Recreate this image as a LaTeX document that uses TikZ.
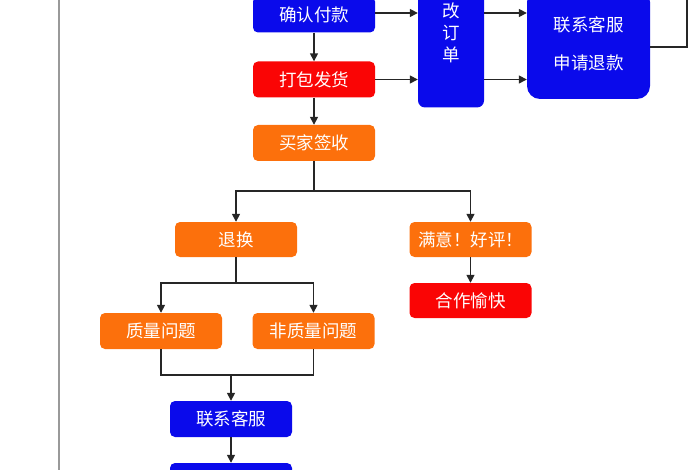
\documentclass[tikz,border=0pt]{standalone}
\usepackage{fontspec}
\usepackage{tikz}
\usetikzlibrary{positioning,arrows.meta}
\newfontfamily\cjk{Noto Sans CJK SC}
\definecolor{flowblue}{RGB}{10,10,235}
\definecolor{flowred}{RGB}{250,5,5}
\definecolor{floworange}{RGB}{252,112,12}

\begin{document}
\begin{tikzpicture}[
  x=1pt, y=-1pt,
  box/.style={rectangle, rounded corners=5pt, inner sep=0pt,
    minimum width=122pt, minimum height=36pt, text=white,
    align=center, font=\cjk\fontsize{17.5}{22}\selectfont},
  bluebox/.style={box, fill=flowblue},
  redbox/.style={box, fill=flowred},
  orangebox/.style={box, fill=floworange},
  arr/.style={-{Triangle[length=8pt,width=8pt]}, line width=1.5pt, black!85},
  link/.style={line width=1.5pt, black!85}
]
\useasboundingbox (0,0) rectangle (700,470);
\clip (0,0) rectangle (700,470);

% outer return line on the left
\draw[line width=2pt, gray!80] (59,-5) -- (59,475);

% order column
\node[bluebox] (pay) at (314,14.5) {确认付款};
\node[redbox] (pack) at (314,79.5) {打包发货};
\node[orangebox] (sign) at (314,143) {买家签收};

\draw[arr] (pay) -- (pack);
\draw[arr] (pack) -- (sign);

% change order / refund
\node[bluebox, rounded corners=7pt, minimum width=66pt, minimum height=150pt]
  (modify) at (451,32.5) {改\\订\\单};
\node[bluebox, rounded corners=13pt, minimum width=123pt, minimum height=110pt,
  font=\cjk\fontsize{17.5}{38}\selectfont] (refund) at (588.5,44) {联系客服\\申请退款};
\coordinate (loopup) at (687,-20);

\draw[arr] (pay.east |- 0,13) -- (modify.west |- 0,13);
\draw[arr] (pack.east) -- (pack.east -| modify.west);
\draw[arr] (modify.east |- 0,13) -- (refund.west |- 0,13);
\draw[arr] (modify.east |- pack.east) -- (refund.west |- pack.east);
\draw[link] (refund.east |- 0,47) -| (loopup);

% after receipt
\node[orangebox, minimum height=35pt] (return) at (236,239.5) {退换};
\node[orangebox, minimum height=35pt] (happy) at (470.5,239.5) {满意！好评！};
\node[redbox, minimum height=35pt] (deal) at (470.5,300.5) {合作愉快};

\draw[arr] (sign.south) -- ++(0,30) -| (return.north);
\draw[arr] (sign.south) ++(0,30) -| (happy.north);
\draw[arr] (happy) -- (deal);

% return branch
\node[orangebox] (qual) at (161,331) {质量问题};
\node[orangebox] (nonqual) at (313.5,331) {非质量问题};
\node[bluebox] (service) at (231,419) {联系客服};
\node[bluebox] (nextstep) at (231,481) {};
\coordinate (merge) at (231,375);

\draw[arr] (return.south) -- ++(0,26) -| (qual.north);
\draw[arr] (return.south) ++(0,26) -| (nonqual.north);
\draw[link] (qual.south) |- (merge) -| (nonqual.south);
\draw[arr] (merge) -- (service.north);
\draw[arr] (service) -- (nextstep);

\end{tikzpicture}
\end{document}
